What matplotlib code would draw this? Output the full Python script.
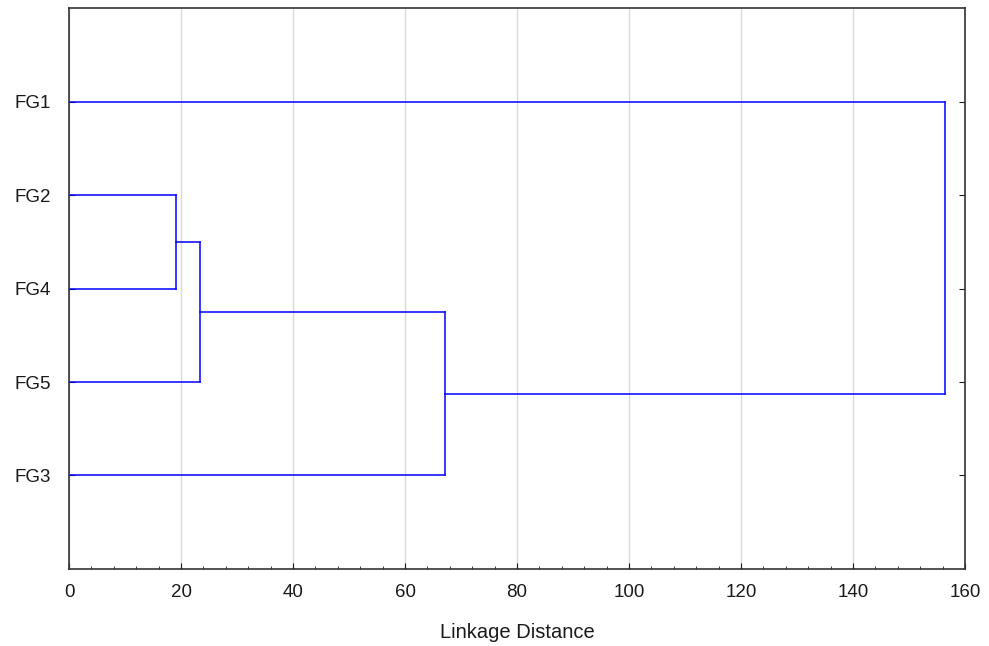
import matplotlib.pyplot as plt
from matplotlib.ticker import MultipleLocator

plt.rcParams['font.family'] = ['Liberation Sans', 'DejaVu Sans']

# leaf order, top to bottom
leaves = ['FG1', 'FG2', 'FG4', 'FG5', 'FG3']

# merges: (left, right, linkage distance); new clusters are named C1, C2, ...
merge_left = ['FG2', 'C1', 'C2', 'FG1']
merge_right = ['FG4', 'FG5', 'FG3', 'C3']
merge_dist = [19.1, 23.4, 67.1, 156.4]

if __name__ == "__main__":
    fig = plt.figure(figsize=(9.89, 6.46), dpi=100)
    ax = fig.add_axes([0.0698, 0.1192, 0.9059, 0.8684])

    # node positions: y from leaf order, x = merge height
    ypos = {name: i + 1 for i, name in enumerate(leaves)}
    xpos = {name: 0.0 for name in leaves}

    for i, (a, b, d) in enumerate(zip(merge_left, merge_right, merge_dist)):
        ax.plot([xpos[a], d], [ypos[a], ypos[a]], color='#0000ff', lw=1.1)
        ax.plot([xpos[b], d], [ypos[b], ypos[b]], color='#0000ff', lw=1.1)
        ax.plot([d, d], [ypos[a], ypos[b]], color='#0000ff', lw=1.1)
        node = 'C%d' % (i + 1)
        ypos[node] = (ypos[a] + ypos[b]) / 2
        xpos[node] = d

    ax.set_xlim(0, 160)
    ax.set_ylim(6, 0)
    ax.xaxis.set_major_locator(MultipleLocator(20))
    ax.xaxis.set_minor_locator(MultipleLocator(4))
    ax.set_yticks(range(1, len(leaves) + 1))
    ax.set_yticklabels(leaves)

    ax.grid(axis='x', color='#d9d9d9', lw=1.0)
    ax.set_axisbelow(True)

    ax.tick_params(axis='both', which='both', direction='in', labelsize=13.5,
                   colors='#1a1a1a', labelcolor='#1a1a1a')
    ax.tick_params(axis='y', which='both', right=True, length=4, pad=13)
    ax.tick_params(axis='x', which='major', length=4, pad=11)
    ax.tick_params(axis='x', which='minor', length=2.5)
    for s in ax.spines.values():
        s.set_color('#333333')
        s.set_linewidth(1.2)

    ax.set_xlabel('Linkage Distance', fontsize=14.5, color='#1a1a1a', labelpad=16)

    fig.savefig('out.png', dpi=100)
